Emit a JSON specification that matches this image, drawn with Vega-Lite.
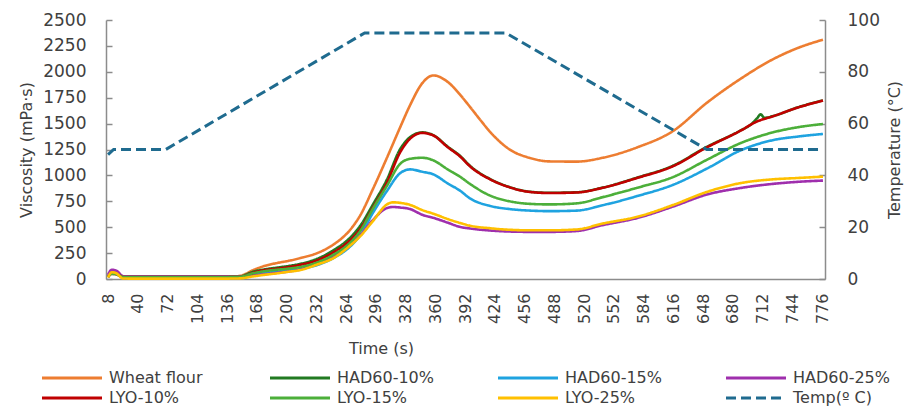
{
  "$schema": "https://vega.github.io/schema/vega-lite/v6.json",
  "width": 719,
  "height": 259,
  "autosize": "none",
  "padding": {"left": 106, "top": 20, "right": 86, "bottom": 128},
  "config": {
    "view": {"stroke": null},
    "font": "DejaVu Sans",
    "axis": {"grid": false, "domainColor": "#8c8c8c", "domainWidth": 1.5, "tickColor": "#8c8c8c", "tickWidth": 1.5, "labelColor": "#404040", "titleColor": "#404040", "titleFontWeight": "normal"},
    "legend": {"title": null, "orient": "none", "legendX": -69, "legendY": 350, "direction": "horizontal", "columns": 4, "gridAlign": "all", "columnPadding": 58, "rowPadding": 4, "labelFontSize": 16, "labelColor": "#404040", "symbolSize": 36, "symbolType": "M-1,0H19", "symbolStrokeWidth": 3, "labelOffset": 56}
  },
  "datasets": {
    "visc": [
      {"t":8,"v":30,"s":"Wheat flour"},{"t":12,"v":70,"s":"Wheat flour"},{"t":17,"v":72,"s":"Wheat flour"},{"t":24,"v":25,"s":"Wheat flour"},{"t":32,"v":20,"s":"Wheat flour"},{"t":72,"v":20,"s":"Wheat flour"},{"t":104,"v":20,"s":"Wheat flour"},{"t":136,"v":20,"s":"Wheat flour"},{"t":150,"v":30,"s":"Wheat flour"},{"t":164,"v":85,"s":"Wheat flour"},{"t":176,"v":125,"s":"Wheat flour"},{"t":190,"v":155,"s":"Wheat flour"},{"t":202,"v":175,"s":"Wheat flour"},{"t":214,"v":200,"s":"Wheat flour"},{"t":233,"v":250,"s":"Wheat flour"},{"t":250,"v":330,"s":"Wheat flour"},{"t":268,"v":470,"s":"Wheat flour"},{"t":279,"v":610,"s":"Wheat flour"},{"t":293,"v":870,"s":"Wheat flour"},{"t":308,"v":1170,"s":"Wheat flour"},{"t":322,"v":1460,"s":"Wheat flour"},{"t":333,"v":1680,"s":"Wheat flour"},{"t":346,"v":1890,"s":"Wheat flour"},{"t":358,"v":1965,"s":"Wheat flour"},{"t":373,"v":1905,"s":"Wheat flour"},{"t":387,"v":1775,"s":"Wheat flour"},{"t":397,"v":1665,"s":"Wheat flour"},{"t":408,"v":1540,"s":"Wheat flour"},{"t":419,"v":1420,"s":"Wheat flour"},{"t":440,"v":1250,"s":"Wheat flour"},{"t":462,"v":1168,"s":"Wheat flour"},{"t":483,"v":1135,"s":"Wheat flour"},{"t":512,"v":1133,"s":"Wheat flour"},{"t":540,"v":1170,"s":"Wheat flour"},{"t":577,"v":1270,"s":"Wheat flour"},{"t":616,"v":1430,"s":"Wheat flour"},{"t":652,"v":1700,"s":"Wheat flour"},{"t":688,"v":1930,"s":"Wheat flour"},{"t":723,"v":2120,"s":"Wheat flour"},{"t":750,"v":2230,"s":"Wheat flour"},{"t":777,"v":2310,"s":"Wheat flour"},

      {"t":8,"v":20,"s":"HAD60-10%"},{"t":12,"v":55,"s":"HAD60-10%"},{"t":17,"v":50,"s":"HAD60-10%"},{"t":24,"v":20,"s":"HAD60-10%"},{"t":32,"v":20,"s":"HAD60-10%"},{"t":72,"v":20,"s":"HAD60-10%"},{"t":104,"v":20,"s":"HAD60-10%"},{"t":136,"v":20,"s":"HAD60-10%"},{"t":150,"v":24,"s":"HAD60-10%"},{"t":164,"v":70,"s":"HAD60-10%"},{"t":176,"v":92,"s":"HAD60-10%"},{"t":190,"v":110,"s":"HAD60-10%"},{"t":202,"v":125,"s":"HAD60-10%"},{"t":214,"v":145,"s":"HAD60-10%"},{"t":233,"v":195,"s":"HAD60-10%"},{"t":250,"v":275,"s":"HAD60-10%"},{"t":268,"v":395,"s":"HAD60-10%"},{"t":279,"v":510,"s":"HAD60-10%"},{"t":293,"v":720,"s":"HAD60-10%"},{"t":308,"v":960,"s":"HAD60-10%"},{"t":322,"v":1250,"s":"HAD60-10%"},{"t":333,"v":1370,"s":"HAD60-10%"},{"t":346,"v":1415,"s":"HAD60-10%"},{"t":358,"v":1388,"s":"HAD60-10%"},{"t":373,"v":1280,"s":"HAD60-10%"},{"t":387,"v":1185,"s":"HAD60-10%"},{"t":397,"v":1095,"s":"HAD60-10%"},{"t":419,"v":965,"s":"HAD60-10%"},{"t":440,"v":887,"s":"HAD60-10%"},{"t":462,"v":842,"s":"HAD60-10%"},{"t":483,"v":832,"s":"HAD60-10%"},{"t":512,"v":837,"s":"HAD60-10%"},{"t":540,"v":882,"s":"HAD60-10%"},{"t":577,"v":978,"s":"HAD60-10%"},{"t":616,"v":1095,"s":"HAD60-10%"},{"t":652,"v":1275,"s":"HAD60-10%"},{"t":688,"v":1432,"s":"HAD60-10%"},{"t":700,"v":1495,"s":"HAD60-10%"},{"t":706,"v":1550,"s":"HAD60-10%"},{"t":710,"v":1590,"s":"HAD60-10%"},{"t":714,"v":1555,"s":"HAD60-10%"},{"t":723,"v":1572,"s":"HAD60-10%"},{"t":750,"v":1657,"s":"HAD60-10%"},{"t":777,"v":1724,"s":"HAD60-10%"},

      {"t":8,"v":25,"s":"HAD60-15%"},{"t":12,"v":60,"s":"HAD60-15%"},{"t":17,"v":55,"s":"HAD60-15%"},{"t":24,"v":25,"s":"HAD60-15%"},{"t":32,"v":25,"s":"HAD60-15%"},{"t":72,"v":25,"s":"HAD60-15%"},{"t":104,"v":25,"s":"HAD60-15%"},{"t":136,"v":25,"s":"HAD60-15%"},{"t":150,"v":25,"s":"HAD60-15%"},{"t":164,"v":40,"s":"HAD60-15%"},{"t":176,"v":55,"s":"HAD60-15%"},{"t":190,"v":70,"s":"HAD60-15%"},{"t":202,"v":82,"s":"HAD60-15%"},{"t":214,"v":95,"s":"HAD60-15%"},{"t":233,"v":135,"s":"HAD60-15%"},{"t":250,"v":200,"s":"HAD60-15%"},{"t":268,"v":310,"s":"HAD60-15%"},{"t":279,"v":420,"s":"HAD60-15%"},{"t":293,"v":640,"s":"HAD60-15%"},{"t":308,"v":850,"s":"HAD60-15%"},{"t":322,"v":1020,"s":"HAD60-15%"},{"t":333,"v":1058,"s":"HAD60-15%"},{"t":346,"v":1035,"s":"HAD60-15%"},{"t":358,"v":1010,"s":"HAD60-15%"},{"t":373,"v":925,"s":"HAD60-15%"},{"t":387,"v":850,"s":"HAD60-15%"},{"t":397,"v":780,"s":"HAD60-15%"},{"t":419,"v":705,"s":"HAD60-15%"},{"t":440,"v":675,"s":"HAD60-15%"},{"t":462,"v":660,"s":"HAD60-15%"},{"t":483,"v":655,"s":"HAD60-15%"},{"t":512,"v":660,"s":"HAD60-15%"},{"t":540,"v":712,"s":"HAD60-15%"},{"t":577,"v":800,"s":"HAD60-15%"},{"t":616,"v":910,"s":"HAD60-15%"},{"t":652,"v":1065,"s":"HAD60-15%"},{"t":688,"v":1240,"s":"HAD60-15%"},{"t":723,"v":1340,"s":"HAD60-15%"},{"t":750,"v":1375,"s":"HAD60-15%"},{"t":777,"v":1400,"s":"HAD60-15%"},

      {"t":8,"v":40,"s":"HAD60-25%"},{"t":12,"v":90,"s":"HAD60-25%"},{"t":17,"v":80,"s":"HAD60-25%"},{"t":24,"v":28,"s":"HAD60-25%"},{"t":32,"v":25,"s":"HAD60-25%"},{"t":72,"v":25,"s":"HAD60-25%"},{"t":104,"v":25,"s":"HAD60-25%"},{"t":136,"v":25,"s":"HAD60-25%"},{"t":150,"v":25,"s":"HAD60-25%"},{"t":164,"v":35,"s":"HAD60-25%"},{"t":176,"v":45,"s":"HAD60-25%"},{"t":190,"v":60,"s":"HAD60-25%"},{"t":202,"v":72,"s":"HAD60-25%"},{"t":214,"v":90,"s":"HAD60-25%"},{"t":233,"v":150,"s":"HAD60-25%"},{"t":250,"v":215,"s":"HAD60-25%"},{"t":268,"v":330,"s":"HAD60-25%"},{"t":279,"v":420,"s":"HAD60-25%"},{"t":293,"v":570,"s":"HAD60-25%"},{"t":308,"v":685,"s":"HAD60-25%"},{"t":315,"v":695,"s":"HAD60-25%"},{"t":322,"v":690,"s":"HAD60-25%"},{"t":333,"v":675,"s":"HAD60-25%"},{"t":346,"v":620,"s":"HAD60-25%"},{"t":358,"v":590,"s":"HAD60-25%"},{"t":373,"v":545,"s":"HAD60-25%"},{"t":387,"v":502,"s":"HAD60-25%"},{"t":397,"v":488,"s":"HAD60-25%"},{"t":419,"v":468,"s":"HAD60-25%"},{"t":440,"v":458,"s":"HAD60-25%"},{"t":462,"v":455,"s":"HAD60-25%"},{"t":483,"v":455,"s":"HAD60-25%"},{"t":512,"v":463,"s":"HAD60-25%"},{"t":540,"v":520,"s":"HAD60-25%"},{"t":577,"v":588,"s":"HAD60-25%"},{"t":616,"v":700,"s":"HAD60-25%"},{"t":652,"v":815,"s":"HAD60-25%"},{"t":688,"v":878,"s":"HAD60-25%"},{"t":723,"v":918,"s":"HAD60-25%"},{"t":750,"v":938,"s":"HAD60-25%"},{"t":777,"v":950,"s":"HAD60-25%"},

      {"t":8,"v":20,"s":"LYO-10%"},{"t":12,"v":50,"s":"LYO-10%"},{"t":17,"v":45,"s":"LYO-10%"},{"t":24,"v":20,"s":"LYO-10%"},{"t":32,"v":20,"s":"LYO-10%"},{"t":72,"v":20,"s":"LYO-10%"},{"t":104,"v":20,"s":"LYO-10%"},{"t":136,"v":20,"s":"LYO-10%"},{"t":150,"v":22,"s":"LYO-10%"},{"t":164,"v":60,"s":"LYO-10%"},{"t":176,"v":85,"s":"LYO-10%"},{"t":190,"v":100,"s":"LYO-10%"},{"t":202,"v":115,"s":"LYO-10%"},{"t":214,"v":135,"s":"LYO-10%"},{"t":233,"v":180,"s":"LYO-10%"},{"t":250,"v":255,"s":"LYO-10%"},{"t":268,"v":370,"s":"LYO-10%"},{"t":279,"v":480,"s":"LYO-10%"},{"t":293,"v":690,"s":"LYO-10%"},{"t":308,"v":930,"s":"LYO-10%"},{"t":322,"v":1220,"s":"LYO-10%"},{"t":333,"v":1355,"s":"LYO-10%"},{"t":346,"v":1410,"s":"LYO-10%"},{"t":358,"v":1385,"s":"LYO-10%"},{"t":373,"v":1275,"s":"LYO-10%"},{"t":387,"v":1180,"s":"LYO-10%"},{"t":397,"v":1090,"s":"LYO-10%"},{"t":419,"v":962,"s":"LYO-10%"},{"t":440,"v":885,"s":"LYO-10%"},{"t":462,"v":840,"s":"LYO-10%"},{"t":483,"v":830,"s":"LYO-10%"},{"t":512,"v":835,"s":"LYO-10%"},{"t":540,"v":880,"s":"LYO-10%"},{"t":577,"v":975,"s":"LYO-10%"},{"t":616,"v":1090,"s":"LYO-10%"},{"t":652,"v":1270,"s":"LYO-10%"},{"t":688,"v":1430,"s":"LYO-10%"},{"t":706,"v":1520,"s":"LYO-10%"},{"t":723,"v":1570,"s":"LYO-10%"},{"t":750,"v":1655,"s":"LYO-10%"},{"t":777,"v":1722,"s":"LYO-10%"},

      {"t":8,"v":20,"s":"LYO-15%"},{"t":12,"v":50,"s":"LYO-15%"},{"t":17,"v":45,"s":"LYO-15%"},{"t":24,"v":20,"s":"LYO-15%"},{"t":32,"v":20,"s":"LYO-15%"},{"t":72,"v":20,"s":"LYO-15%"},{"t":104,"v":20,"s":"LYO-15%"},{"t":136,"v":20,"s":"LYO-15%"},{"t":150,"v":22,"s":"LYO-15%"},{"t":164,"v":55,"s":"LYO-15%"},{"t":176,"v":75,"s":"LYO-15%"},{"t":190,"v":90,"s":"LYO-15%"},{"t":202,"v":100,"s":"LYO-15%"},{"t":214,"v":115,"s":"LYO-15%"},{"t":233,"v":160,"s":"LYO-15%"},{"t":250,"v":232,"s":"LYO-15%"},{"t":268,"v":347,"s":"LYO-15%"},{"t":279,"v":460,"s":"LYO-15%"},{"t":293,"v":680,"s":"LYO-15%"},{"t":308,"v":900,"s":"LYO-15%"},{"t":322,"v":1110,"s":"LYO-15%"},{"t":333,"v":1160,"s":"LYO-15%"},{"t":346,"v":1170,"s":"LYO-15%"},{"t":358,"v":1145,"s":"LYO-15%"},{"t":373,"v":1060,"s":"LYO-15%"},{"t":387,"v":985,"s":"LYO-15%"},{"t":397,"v":920,"s":"LYO-15%"},{"t":419,"v":805,"s":"LYO-15%"},{"t":440,"v":750,"s":"LYO-15%"},{"t":462,"v":725,"s":"LYO-15%"},{"t":483,"v":720,"s":"LYO-15%"},{"t":512,"v":730,"s":"LYO-15%"},{"t":540,"v":790,"s":"LYO-15%"},{"t":577,"v":880,"s":"LYO-15%"},{"t":616,"v":985,"s":"LYO-15%"},{"t":652,"v":1150,"s":"LYO-15%"},{"t":688,"v":1310,"s":"LYO-15%"},{"t":723,"v":1415,"s":"LYO-15%"},{"t":750,"v":1465,"s":"LYO-15%"},{"t":777,"v":1496,"s":"LYO-15%"},

      {"t":8,"v":15,"s":"LYO-25%"},{"t":12,"v":65,"s":"LYO-25%"},{"t":17,"v":55,"s":"LYO-25%"},{"t":24,"v":5,"s":"LYO-25%"},{"t":32,"v":4,"s":"LYO-25%"},{"t":72,"v":4,"s":"LYO-25%"},{"t":104,"v":4,"s":"LYO-25%"},{"t":136,"v":4,"s":"LYO-25%"},{"t":150,"v":6,"s":"LYO-25%"},{"t":164,"v":25,"s":"LYO-25%"},{"t":176,"v":40,"s":"LYO-25%"},{"t":190,"v":55,"s":"LYO-25%"},{"t":202,"v":70,"s":"LYO-25%"},{"t":214,"v":85,"s":"LYO-25%"},{"t":233,"v":140,"s":"LYO-25%"},{"t":250,"v":200,"s":"LYO-25%"},{"t":268,"v":320,"s":"LYO-25%"},{"t":279,"v":410,"s":"LYO-25%"},{"t":293,"v":560,"s":"LYO-25%"},{"t":308,"v":720,"s":"LYO-25%"},{"t":315,"v":740,"s":"LYO-25%"},{"t":322,"v":735,"s":"LYO-25%"},{"t":333,"v":715,"s":"LYO-25%"},{"t":346,"v":665,"s":"LYO-25%"},{"t":358,"v":630,"s":"LYO-25%"},{"t":373,"v":580,"s":"LYO-25%"},{"t":387,"v":540,"s":"LYO-25%"},{"t":397,"v":515,"s":"LYO-25%"},{"t":419,"v":490,"s":"LYO-25%"},{"t":440,"v":475,"s":"LYO-25%"},{"t":462,"v":470,"s":"LYO-25%"},{"t":483,"v":470,"s":"LYO-25%"},{"t":512,"v":478,"s":"LYO-25%"},{"t":540,"v":535,"s":"LYO-25%"},{"t":577,"v":600,"s":"LYO-25%"},{"t":616,"v":715,"s":"LYO-25%"},{"t":652,"v":840,"s":"LYO-25%"},{"t":688,"v":925,"s":"LYO-25%"},{"t":723,"v":962,"s":"LYO-25%"},{"t":750,"v":975,"s":"LYO-25%"},{"t":777,"v":988,"s":"LYO-25%"}
    ],
    "temp": [
      {"t":8,"c":48,"s":"Temp(º C)"},{"t":14,"c":50,"s":"Temp(º C)"},{"t":70,"c":50,"s":"Temp(º C)"},{"t":284,"c":95,"s":"Temp(º C)"},{"t":436,"c":95,"s":"Temp(º C)"},{"t":652,"c":50,"s":"Temp(º C)"},{"t":777,"c":50,"s":"Temp(º C)"}
    ]
  },
  "layer": [
    {
      "data": {"name": "visc"},
      "mark": {"type": "line", "strokeWidth": 2.6, "interpolate": "monotone"},
      "encoding": {
        "x": {"field": "t", "type": "quantitative", "scale": {"domain": [5.8, 779.2], "nice": false, "zero": false},
          "axis": {"values": [8,40,72,104,136,168,200,232,264,296,328,360,392,424,456,488,520,552,584,616,648,680,712,744,776], "labelAngle": 270, "ticks": false, "tickSize": 0, "labelPadding": 14, "labelFontSize": 16, "labelOverlap": false, "labelSeparation": 0, "labelFlush": false, "title": "Time (s)", "titleFontSize": 16, "titlePadding": 17, "titleX": 275, "titleAlign": "center"}},
        "y": {"field": "v", "type": "quantitative", "scale": {"domain": [0, 2500], "nice": false},
          "axis": {"orient": "left", "values": [0,250,500,750,1000,1250,1500,1750,2000,2250,2500], "format": "d", "tickSize": -6, "labelPadding": 26, "labelFontSize": 17, "title": "Viscosity (mPa·s)", "titleFontSize": 16, "titlePadding": 8}},
        "color": {"field": "s", "type": "nominal",
          "scale": {"domain": ["Wheat flour","HAD60-10%","HAD60-15%","HAD60-25%","LYO-10%","LYO-15%","LYO-25%","Temp(º C)"], "range": ["#ed7d31","#217a21","#1fa3e0","#9f2fad","#c00000","#4caf3a","#ffc000","#1f6b8f"]}},
        "strokeDash": {"field": "s", "type": "nominal",
          "scale": {"domain": ["Wheat flour","HAD60-10%","HAD60-15%","HAD60-25%","LYO-10%","LYO-15%","LYO-25%","Temp(º C)"], "range": [[1,0],[1,0],[1,0],[1,0],[1,0],[1,0],[1,0],[10,5]]}}
      }
    },
    {
      "data": {"name": "temp"},
      "mark": {"type": "line", "strokeWidth": 3},
      "encoding": {
        "x": {"field": "t", "type": "quantitative",
          "axis": {"values": [8,40,72,104,136,168,200,232,264,296,328,360,392,424,456,488,520,552,584,616,648,680,712,744,776], "labelAngle": 270, "ticks": false, "tickSize": 0, "labelPadding": 14, "labelFontSize": 16, "labelOverlap": false, "labelSeparation": 0, "labelFlush": false, "title": "Time (s)", "titleFontSize": 16, "titlePadding": 17, "titleX": 275, "titleAlign": "center"}},
        "y": {"field": "c", "type": "quantitative", "scale": {"domain": [0, 100], "nice": false},
          "axis": {"orient": "right", "values": [0,20,40,60,80,100], "tickSize": -6, "labelPadding": 28, "labelFontSize": 17, "title": "Temperature (°C)", "titleFontSize": 16, "titleAngle": 270, "titleBaseline": "top", "titlePadding": 7}},
        "color": {"field": "s", "type": "nominal"},
        "strokeDash": {"field": "s", "type": "nominal"}
      }
    }
  ],
  "resolve": {"scale": {"y": "independent"}}
}
